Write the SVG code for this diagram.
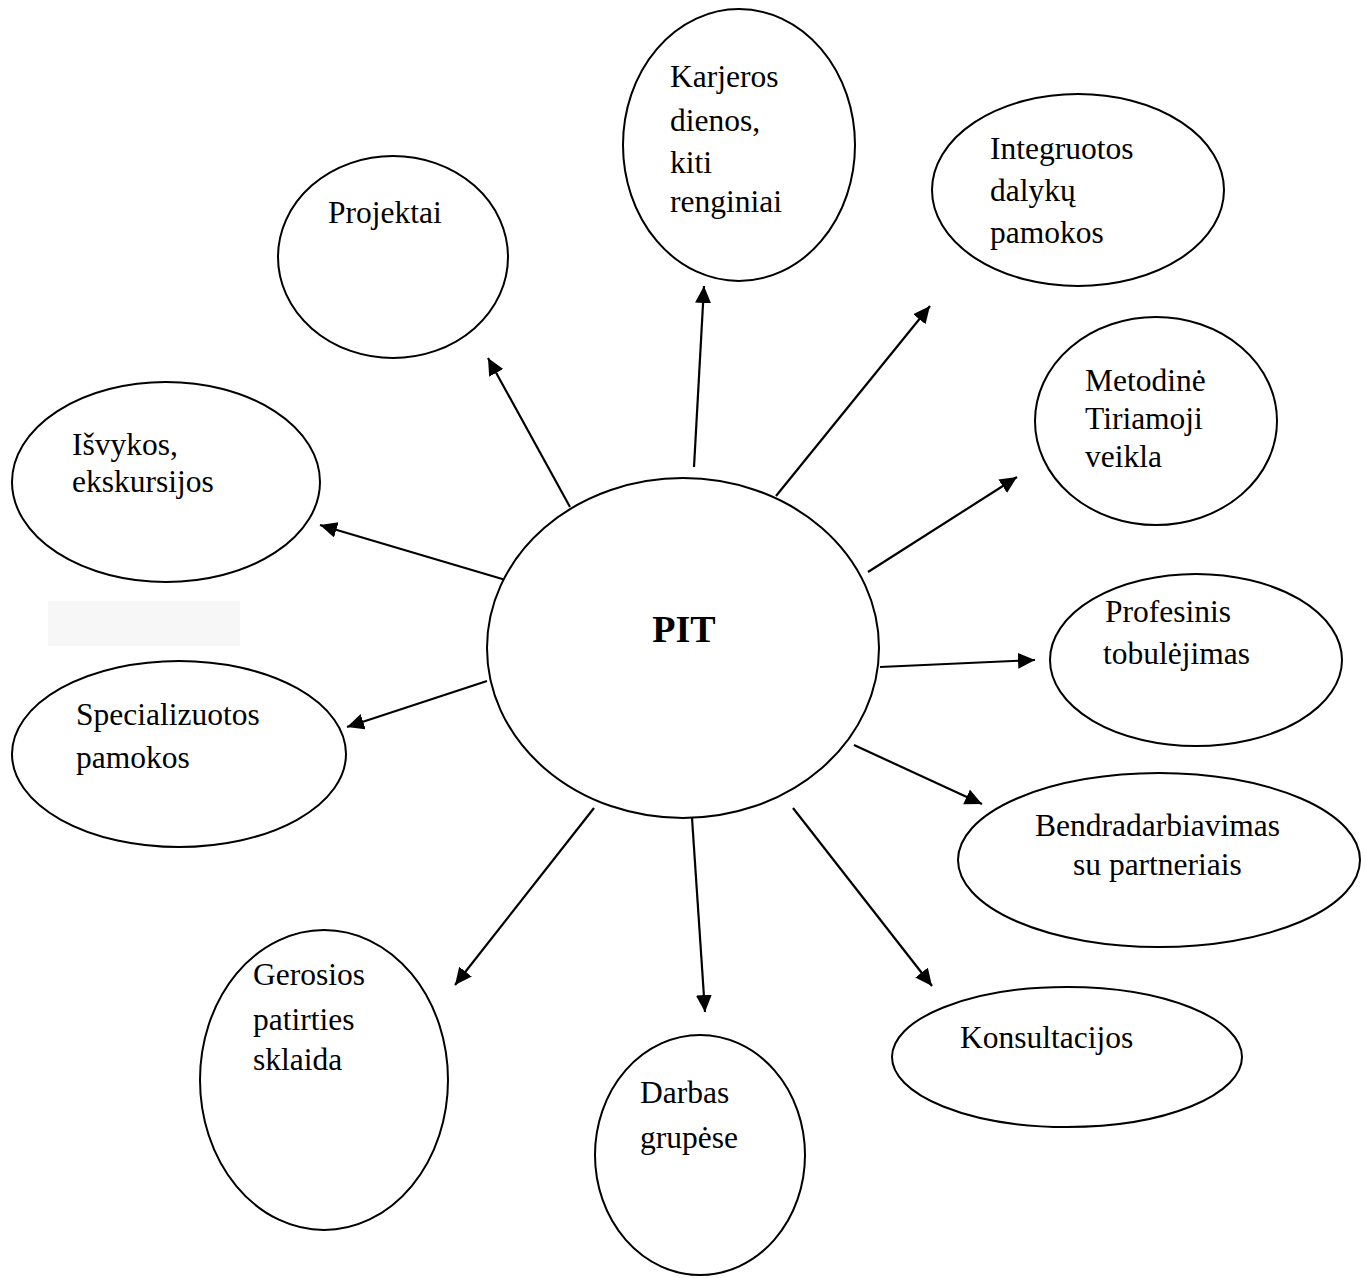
<svg xmlns="http://www.w3.org/2000/svg" width="1366" height="1278" viewBox="0 0 1366 1278">
<style>
.node ellipse{fill:#fff;stroke:#000;stroke-width:2}
.node text{font-family:"Liberation Serif","Times New Roman",serif;font-size:31.5px;fill:#000}
.conn line{stroke:#000;stroke-width:2.2;marker-end:url(#arr)}
</style>
<defs>
<marker id="arr" markerUnits="userSpaceOnUse" markerWidth="18" markerHeight="18" refX="17" refY="8" orient="auto">
<path d="M0,0 L17,8 L0,16 z" fill="#000"/>
</marker>
</defs>
<rect width="1366" height="1278" fill="#fff"/>
<rect x="48" y="601" width="192" height="45" fill="#f7f7f7"/>
<g id="connectors" class="conn">
<line x1="570" y1="507" x2="488" y2="358"/>
<line x1="694" y1="467" x2="704" y2="286"/>
<line x1="776" y1="496" x2="930" y2="306"/>
<line x1="868" y1="572" x2="1017" y2="477"/>
<line x1="509" y1="581" x2="320" y2="525"/>
<line x1="880" y1="667" x2="1035" y2="660"/>
<line x1="487" y1="681" x2="347" y2="727"/>
<line x1="594" y1="808" x2="455" y2="985"/>
<line x1="692" y1="818" x2="705" y2="1012"/>
<line x1="793" y1="808" x2="932" y2="986"/>
<line x1="854" y1="745" x2="982" y2="804"/>
</g>
<g id="pit" class="node">
<ellipse cx="683" cy="648" rx="196" ry="170"/>
<text x="684" y="642" text-anchor="middle" style="font-weight:bold;font-size:38px">PIT</text>
</g>
<g id="karjeros" class="node">
<ellipse cx="739" cy="145" rx="116" ry="136"/>
<text x="670" y="87">Karjeros</text>
<text x="670" y="131">dienos,</text>
<text x="670" y="173">kiti</text>
<text x="670" y="212">renginiai</text>
</g>
<g id="projektai" class="node">
<ellipse cx="393" cy="257" rx="115" ry="101"/>
<text x="328" y="223">Projektai</text>
</g>
<g id="integruotos" class="node">
<ellipse cx="1078" cy="190" rx="146" ry="96"/>
<text x="990" y="159">Integruotos</text>
<text x="990" y="201">dalykų</text>
<text x="990" y="243">pamokos</text>
</g>
<g id="metodine" class="node">
<ellipse cx="1156" cy="421" rx="121" ry="104"/>
<text x="1085" y="391">Metodinė</text>
<text x="1085" y="429">Tiriamoji</text>
<text x="1085" y="467">veikla</text>
</g>
<g id="isvykos" class="node">
<ellipse cx="166" cy="482" rx="154" ry="100"/>
<text x="72" y="455">Išvykos,</text>
<text x="72" y="492">ekskursijos</text>
</g>
<g id="profesinis" class="node">
<ellipse cx="1196" cy="660" rx="146" ry="86"/>
<text x="1105" y="622">Profesinis</text>
<text x="1103" y="664">tobulėjimas</text>
</g>
<g id="specializuotos" class="node">
<ellipse cx="179" cy="754" rx="167" ry="93"/>
<text x="76" y="725">Specializuotos</text>
<text x="76" y="768">pamokos</text>
</g>
<g id="bendradarbiavimas" class="node">
<ellipse cx="1159" cy="860" rx="201" ry="87"/>
<text x="1035" y="836">Bendradarbiavimas</text>
<text x="1073" y="875">su partneriais</text>
</g>
<g id="konsultacijos" class="node">
<ellipse cx="1067" cy="1057" rx="175" ry="70"/>
<text x="960" y="1048">Konsultacijos</text>
</g>
<g id="gerosios" class="node">
<ellipse cx="324" cy="1080" rx="124" ry="150"/>
<text x="253" y="985">Gerosios</text>
<text x="253" y="1030">patirties</text>
<text x="253" y="1070">sklaida</text>
</g>
<g id="darbas" class="node">
<ellipse cx="700" cy="1155" rx="105" ry="120"/>
<text x="640" y="1103">Darbas</text>
<text x="640" y="1148">grupėse</text>
</g>
</svg>
